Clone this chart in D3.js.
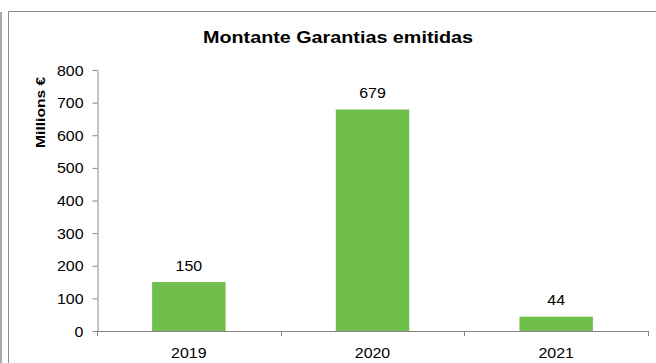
<!DOCTYPE html>
<html>
<head>
<meta charset="utf-8">
<script src="https://cdn.jsdelivr.net/npm/d3@7"></script>
<style>
  html, body { margin: 0; padding: 0; background: #fff; }
  svg { display: block; }
  text { font-family: "Liberation Sans", Arial, sans-serif; fill: #000; }
</style>
</head>
<body>
<svg id="chart" width="656" height="363"></svg>
<script>
// Guarantees issued per year (millions of euros)
const years = ["2019", "2020", "2021"];
const amounts = [150, 679, 44];
const yTicks = [0, 100, 200, 300, 400, 500, 600, 700, 800];
const titleText = "Montante Garantias emitidas";
const yLabel = "Millions €";

const W = 656, H = 363;
const plot = { left: 97, right: 648, top: 70, bottom: 331 };
const barColor = "#70BF4C";
const axisColor = "#868686";
const numFont = "14.5px";
const widen = 1.1; // horizontal widening of number glyphs

const svg = d3.select("#chart");

// frame lines
svg.append("path")
  .attr("d", `M8.5,${H} V11.5 H${W}`)
  .attr("fill", "none").attr("stroke", "#8c8c8c").attr("stroke-width", 1);
svg.append("line")
  .attr("x1", 1).attr("x2", 1).attr("y1", 12).attr("y2", H)
  .attr("stroke", "#8c8c8c").attr("stroke-width", 1.5);

// scales
const y = d3.scaleLinear().domain([0, 800]).range([plot.bottom, plot.top]);
const x = d3.scaleBand().domain(years).range([plot.left, plot.right])
  .paddingInner(0.6).paddingOuter(0.3);
const xCat = d3.scaleBand().domain(years).range([plot.left, plot.right]).padding(0);

// place a text at (px, py) with widened glyphs
function placeWide(sel, px, py) {
  sel.attr("x", 0).attr("y", 0)
    .attr("transform", (d, i) => `translate(${px(d, i)},${py(d, i)}) scale(${widen},1)`);
}

// y axis
const yAxis = svg.append("g")
  .attr("transform", `translate(${plot.left + 0.5},0)`)
  .call(d3.axisLeft(y).tickValues(yTicks).tickSize(5).tickPadding(9).tickSizeOuter(0));
yAxis.select(".domain").attr("stroke", axisColor);
yAxis.selectAll(".tick line").attr("stroke", axisColor);
yAxis.selectAll(".tick text")
  .attr("font-size", numFont)
  .attr("font-family", "Liberation Sans, Arial, sans-serif").attr("fill", "#000")
  .attr("dy", null)
  .call(placeWide, () => -14, () => 5);

// bars
const rows = years.map((yr, i) => ({ yr, v: amounts[i] }));
svg.append("g").selectAll("rect")
  .data(rows)
  .join("rect")
  .attr("x", d => x(d.yr))
  .attr("width", x.bandwidth())
  .attr("y", d => y(d.v))
  .attr("height", d => y(0) - y(d.v))
  .attr("fill", barColor);

// value labels
svg.append("g").selectAll("text")
  .data(rows)
  .join("text")
  .attr("text-anchor", "middle")
  .attr("font-size", numFont)
  .text(d => d.v)
  .call(placeWide, d => x(d.yr) + x.bandwidth() / 2, d => y(d.v) - 11.5);

// x axis: baseline, boundary ticks, category labels
const xg = svg.append("g");
xg.append("line")
  .attr("x1", plot.left).attr("x2", plot.right + 0.5)
  .attr("y1", y(0) + 0.5).attr("y2", y(0) + 0.5)
  .attr("stroke", axisColor);
const bounds = years.map(d => xCat(d)).concat([xCat(years[years.length - 1]) + xCat.bandwidth()]);
xg.selectAll("line.tick").data(bounds).join("line")
  .attr("class", "tick")
  .attr("x1", d => Math.round(d) + 0.5).attr("x2", d => Math.round(d) + 0.5)
  .attr("y1", y(0)).attr("y2", y(0) + 5)
  .attr("stroke", axisColor);
xg.selectAll("text").data(years).join("text")
  .attr("text-anchor", "middle")
  .attr("font-size", numFont)
  .text(d => d)
  .call(placeWide, d => xCat(d) + xCat.bandwidth() / 2, () => 357.5);

// title
svg.append("text")
  .attr("x", 338).attr("y", 42.5)
  .attr("text-anchor", "middle")
  .attr("font-size", "17px").attr("font-weight", "bold")
  .attr("textLength", 270).attr("lengthAdjust", "spacingAndGlyphs")
  .text(titleText);

// y axis title
svg.append("text")
  .attr("transform", "translate(45.3,112.4) rotate(-90)")
  .attr("text-anchor", "middle")
  .attr("font-size", "13px").attr("font-weight", "bold")
  .attr("textLength", 71).attr("lengthAdjust", "spacingAndGlyphs")
  .text(yLabel);
</script>
</body>
</html>
